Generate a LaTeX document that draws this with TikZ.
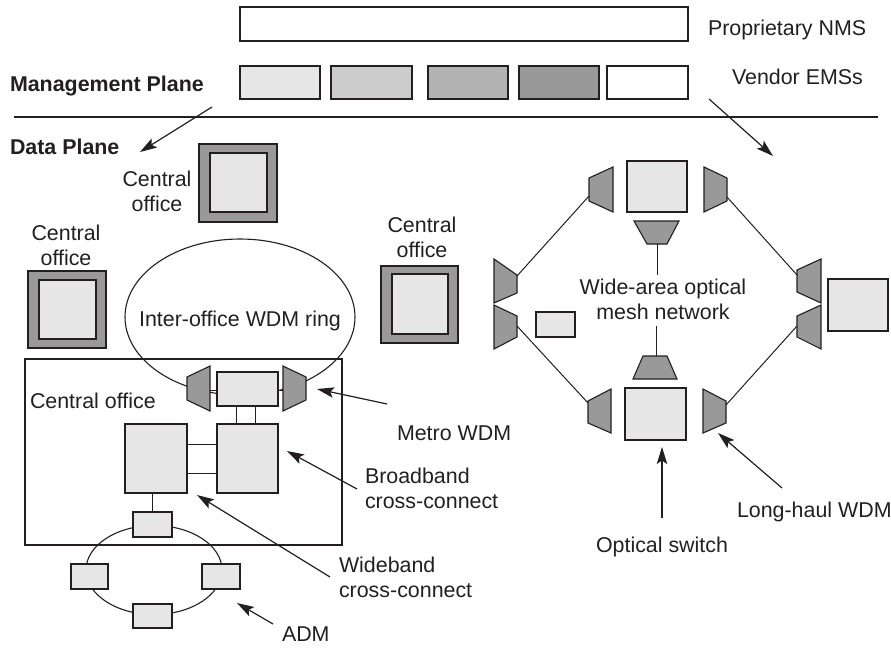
\documentclass[tikz,border=0pt]{standalone}
\usepackage{fontspec}
\setmainfont{Liberation Sans}
\usetikzlibrary{arrows.meta,shapes.geometric}
\definecolor{ink}{HTML}{231F20}
\definecolor{gA}{HTML}{E6E6E6}
\definecolor{gB}{HTML}{CCCCCC}
\definecolor{gC}{HTML}{B3B3B3}
\definecolor{gD}{HTML}{999999}
\begin{document}
\begin{tikzpicture}[x=1pt,y=-1pt,
  font=\fontsize{21.4}{25}\selectfont,
  box/.style={draw=ink, line width=1.3pt, inner sep=0pt, outer sep=0pt, fill=gA},
  cobox/.style={draw=ink, line width=1.3pt, inner sep=0pt, outer sep=0pt, fill=gD},
  trap/.style={draw=ink, line width=1.1pt, fill=gD, line join=miter},
  wire/.style={draw=ink, line width=1pt},
  arr/.style={draw=ink, line width=1.2pt, -{Stealth[length=17pt,width=10.5pt,inset=3.5pt]}},
  lbl/.style={inner sep=0pt, outer sep=0pt, text=ink},
  ring/.style={draw=ink, ellipse, line width=1.1pt, inner sep=0pt, outer sep=0pt}]
\useasboundingbox (0,0) rectangle (891,648);

% ---------- management plane ----------
\node[box, fill=white, minimum width=448pt, minimum height=34pt] (nms) at (464,24) {};
\node[box, fill=gA, minimum width=80pt, minimum height=33pt] (ems1) at (280,82.5) {};
\node[box, fill=gB, minimum width=81pt, minimum height=33pt] (ems2) at (371.5,82.5) {};
\node[box, fill=gC, minimum width=80pt, minimum height=33pt] (ems3) at (468,82.5) {};
\node[box, fill=gD, minimum width=80pt, minimum height=33pt] (ems4) at (559,82.5) {};
\node[box, fill=white, minimum width=81pt, minimum height=33pt] (ems5) at (647.5,82.5) {};
\node[lbl, anchor=base west] (nmslbl) at (708,35) {Proprietary NMS};
\node[lbl, anchor=base west] (emslbl) at (732,84) {Vendor EMSs};
\node[lbl, anchor=base west, font=\fontsize{21.4}{25}\selectfont\bfseries] (mp) at (10,91) {Management Plane};
\node[lbl, anchor=base west, font=\fontsize{21.4}{25}\selectfont\bfseries] (dp) at (10,154) {Data Plane};
\coordinate (divL) at (14,117);
\coordinate (divR) at (878,117);
\draw[draw=ink, line width=1.2pt] (divL) -- (divR);
\coordinate (a1s) at (212,107); \coordinate (a1e) at (140,152);
\coordinate (a2s) at (709,99);  \coordinate (a2e) at (773,156);
\draw[arr] (a1s) -- (a1e);
\draw[arr] (a2s) -- (a2e);

% ---------- central offices ----------
\node[cobox, minimum width=78pt, minimum height=78pt] (coT) at (238,183) {};
\node[box, minimum width=57pt, minimum height=59pt] (coTi) at (238.5,182.5) {};
\node[lbl, align=center] (coTl) at (157,191) {Central\\office};

\node[cobox, minimum width=78pt, minimum height=77pt] (coL) at (67,309.5) {};
\node[box, minimum width=57pt, minimum height=59pt] (coLi) at (67.5,309.5) {};
\node[lbl, align=center] (coLl) at (66,245) {Central\\office};

\node[cobox, minimum width=77pt, minimum height=77pt] (coM) at (419.5,304.5) {};
\node[box, minimum width=56pt, minimum height=60pt] (coMi) at (420,304) {};
\node[lbl, align=center] (coMl) at (422,237.5) {Central\\office};

% ---------- big central office ----------
\node[draw=ink, line width=1.2pt, inner sep=0pt, outer sep=0pt, minimum width=317pt, minimum height=186pt] (bigco) at (183.5,452) {};
\node[lbl, anchor=base west] (bigcol) at (30,408) {Central office};

\node[ring, minimum width=230pt, minimum height=156pt] (wdmring) at (240,317) {};
\node[lbl, anchor=base] (wdmringl) at (240,326) {Inter-office WDM ring};

% metro WDM
\draw[trap] (187,377) -- (210,366) -- (210,411) -- (187,400) -- cycle;
\draw[trap] (283,366) -- (306,377) -- (306,400) -- (283,411) -- cycle;
\coordinate (mL) at (210,390);
\coordinate (mR) at (283,390);
\node[box, minimum width=61pt, minimum height=34pt] (metro) at (247.5,389) {};
\draw[wire] (mL) -- (mL -| metro.west);
\draw[wire] (mR) -- (mR -| metro.east);

\node[box, minimum width=61pt, minimum height=69pt] (bb) at (247.5,458.5) {};
\node[box, minimum width=62pt, minimum height=69pt] (wb) at (156,458.5) {};
\draw[wire] ([xshift=-11pt]metro.south) -- ([xshift=-11pt]bb.north);
\draw[wire] ([xshift=7.5pt]metro.south) -- ([xshift=7.5pt]bb.north);
\draw[wire] ([yshift=14.5pt]wb.east) -- ([yshift=14.5pt]bb.west);
\draw[wire] ([yshift=-14.5pt]wb.east) -- ([yshift=-14.5pt]bb.west);

% ADM ring
\node[ring, minimum width=136pt, minimum height=89pt] (admring) at (154,570) {};
\node[box, minimum width=39pt, minimum height=25pt] (admT) at (152.5,524.5) {};
\node[box, minimum width=37pt, minimum height=25pt] (admL) at (89.5,576.5) {};
\node[box, minimum width=38pt, minimum height=25pt] (admR) at (221,576.5) {};
\node[box, minimum width=39pt, minimum height=24pt] (admB) at (152.5,616) {};
\draw[wire] (admT.north) -- (admT.north |- wb.south);

% left labels and arrows
\node[lbl, anchor=base west] (metrol) at (397,440) {Metro WDM};
\node[lbl, anchor=west, align=left] (bbl) at (365,488) {Broadband\\cross-connect};
\node[lbl, anchor=west, align=left] (wbl) at (339,577.5) {Wideband\\cross-connect};
\node[lbl, anchor=base west] (adml) at (282,641) {ADM};
\coordinate (m1s) at (387,404); \coordinate (m1e) at (317,389);
\coordinate (b1s) at (357,489); \coordinate (b1e) at (287,451);
\coordinate (w1s) at (330,577); \coordinate (w1e) at (197,495);
\coordinate (d1s) at (273,624); \coordinate (d1e) at (237,603);
\draw[arr] (m1s) -- (m1e);
\draw[arr] (b1s) -- (b1e);
\draw[arr] (w1s) -- (w1e);
\draw[arr] (d1s) -- (d1e);

% ---------- wide-area mesh ----------
\node[box, minimum width=60pt, minimum height=51pt] (swT) at (657,186.5) {};
\node[box, minimum width=61pt, minimum height=52pt] (swB) at (655.5,414) {};
\node[box, minimum width=39pt, minimum height=25pt] (swL) at (555.5,324.5) {};
\node[box, minimum width=60pt, minimum height=52pt] (swR) at (858,305) {};

\draw[trap] (589,178) -- (613,167) -- (613,212) -- (589,201) -- cycle;
\draw[trap] (704,167) -- (727,178) -- (727,201) -- (704,212) -- cycle;
\draw[trap] (634,221) -- (679,221) -- (667,244) -- (647,244) -- cycle;
\draw[trap] (494,259) -- (517,275) -- (517,293) -- (494,303) -- cycle;
\draw[trap] (494,305) -- (517,316) -- (517,337) -- (494,349) -- cycle;
\draw[trap] (797,270) -- (821,259) -- (821,303) -- (797,292) -- cycle;
\draw[trap] (797,316) -- (821,305) -- (821,349) -- (797,337) -- cycle;
\draw[trap] (643,356) -- (667,356) -- (677,379) -- (633,379) -- cycle;
\draw[trap] (588,401) -- (611,389) -- (611,433) -- (588,423) -- cycle;
\draw[trap] (703,389) -- (726,401) -- (726,423) -- (703,433) -- cycle;

\coordinate (pTL) at (589,196);
\coordinate (pLU) at (517,276);
\coordinate (pTR) at (727,197);
\coordinate (pRU) at (797,275);
\coordinate (pLL) at (517,326);
\coordinate (pBL) at (588,403);
\coordinate (pRL) at (797,326);
\coordinate (pBR) at (726,405);
\coordinate (pTD) at (657,244);
\coordinate (pTDe) at (657,275);
\coordinate (pBU) at (656,356);
\coordinate (pBUe) at (656,326);
\draw[wire] (pTL) -- (pLU);
\draw[wire] (pTR) -- (pRU);
\draw[wire] (pLL) -- (pBL);
\draw[wire] (pRL) -- (pBR);
\draw[wire] (pTD) -- (pTDe);
\draw[wire] (pBU) -- (pBUe);

\node[lbl, align=center] (meshl) at (663,299.5) {Wide-area optical\\mesh network};
\node[lbl, anchor=base west] (osl) at (596,552) {Optical switch};
\node[lbl, anchor=base west] (lhl) at (737,517) {Long-haul WDM};
\coordinate (o1s) at (662,518); \coordinate (o1e) at (662,447);
\coordinate (l1s) at (782,488); \coordinate (l1e) at (718,433);
\draw[arr] (o1s) -- (o1e);
\draw[arr] (l1s) -- (l1e);
\end{tikzpicture}
\end{document}
